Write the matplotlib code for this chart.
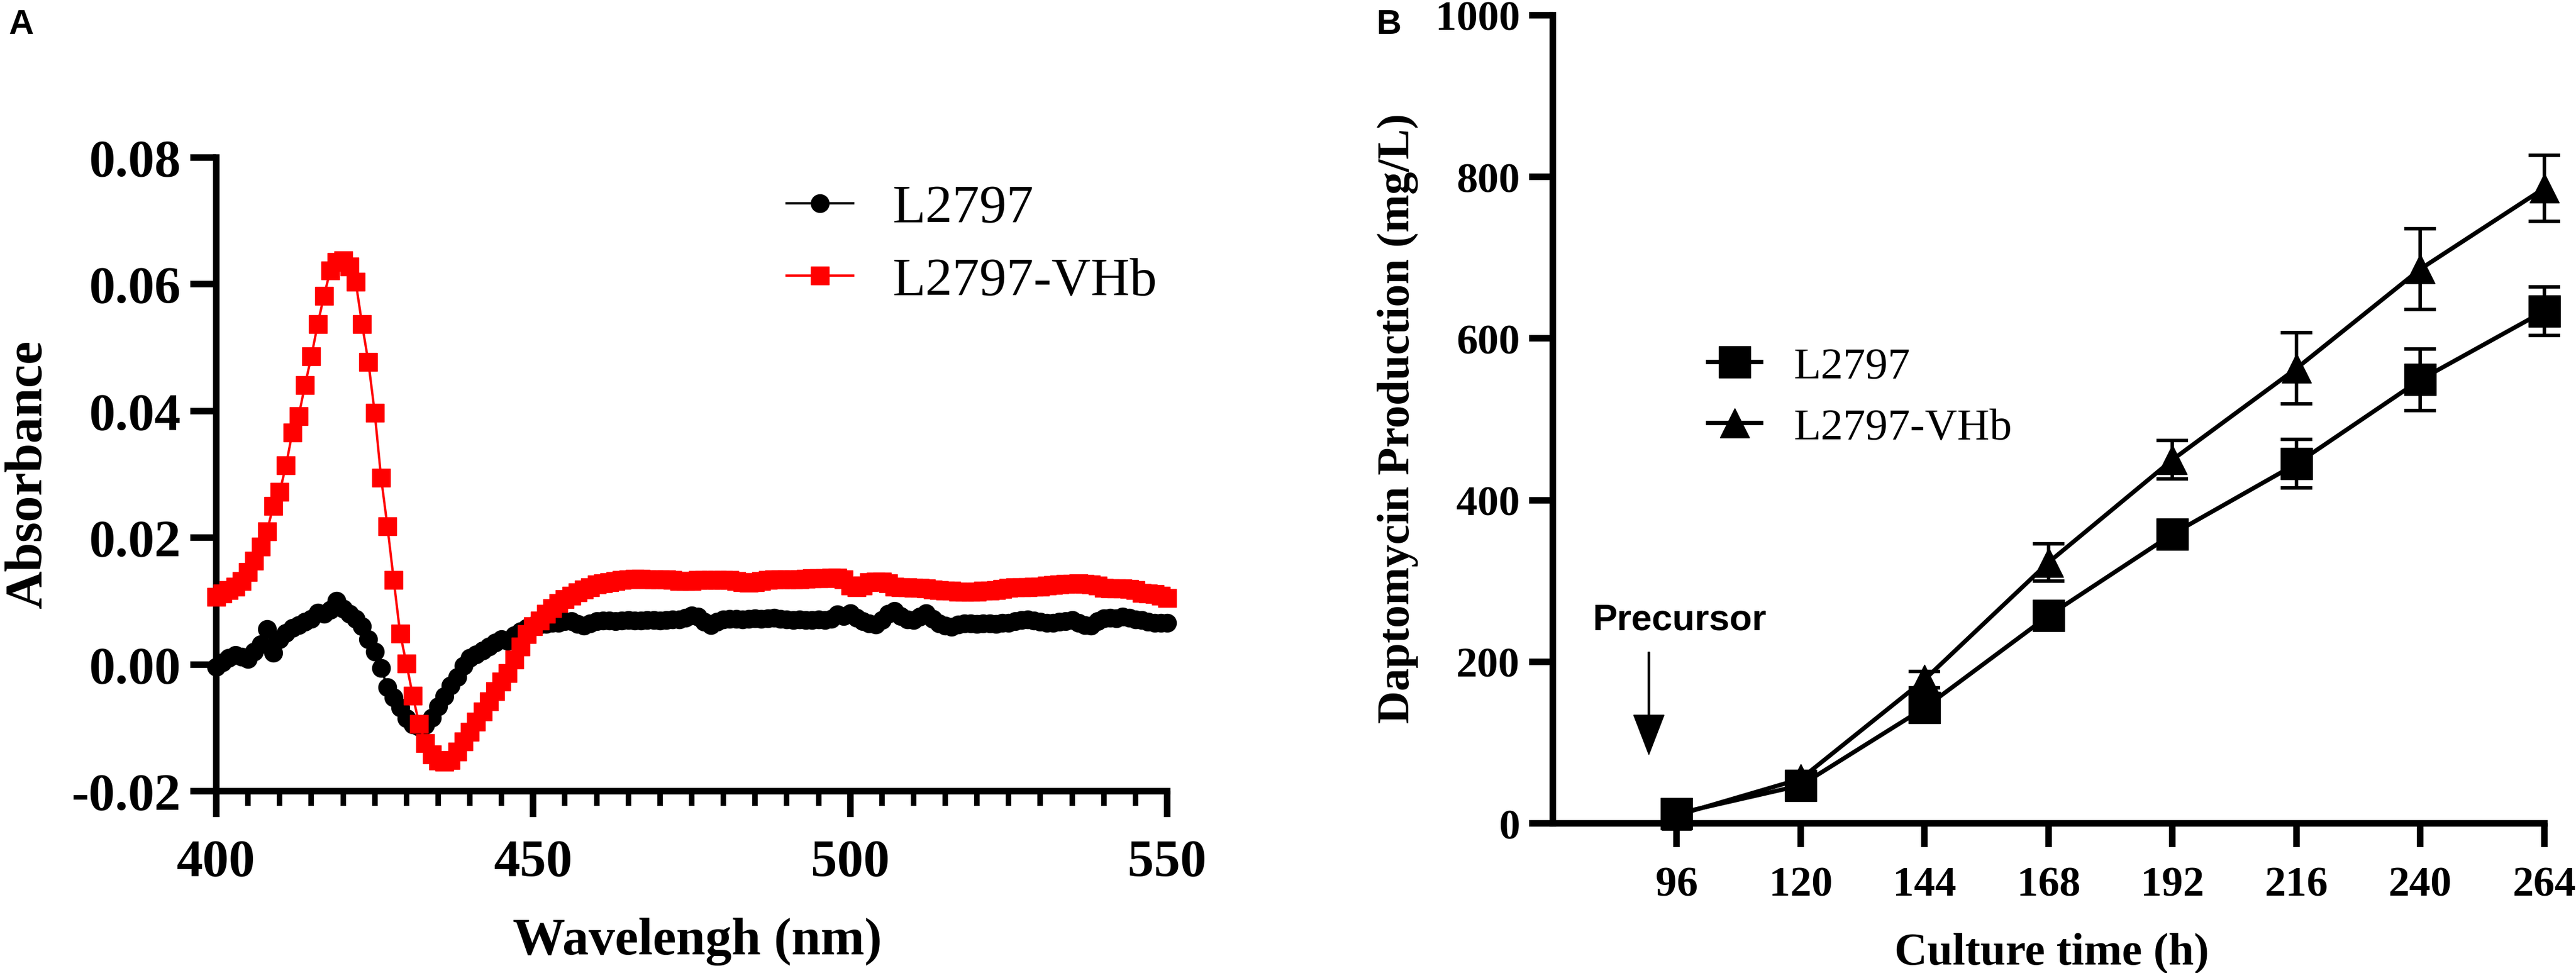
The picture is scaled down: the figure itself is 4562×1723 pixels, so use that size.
import numpy as np
import matplotlib
matplotlib.use("Agg")
import matplotlib.pyplot as plt
from matplotlib.ticker import MultipleLocator, FormatStrFormatter

plt.rcParams['axes.unicode_minus'] = False

# ---- panel A: absorbance spectra ----
wavelength = list(range(400, 551))
abs_l2797 = [
    -0.0004, 0.0003, 0.0010, 0.0015, 0.0012, 0.0009, 0.0020, 0.0032, 0.0056, 0.0018,
    0.0040, 0.0050, 0.0058, 0.0062, 0.0067, 0.0072, 0.0082, 0.0080, 0.0086, 0.0100,
    0.0088, 0.0080, 0.0072, 0.0060, 0.0040, 0.0020, -0.0006, -0.0036, -0.0052, -0.0068,
    -0.0085, -0.0095, -0.0098, -0.0096, -0.0084, -0.0066, -0.0050, -0.0033, -0.0020, -0.0002,
    0.0010, 0.0016, 0.0022, 0.0028, 0.0034, 0.0040, 0.0037, 0.0046, 0.0052, 0.0058,
    0.0061, 0.0063, 0.0064, 0.0066, 0.0066, 0.0068, 0.0068, 0.0064, 0.0061, 0.0065,
    0.0068, 0.0069, 0.0069, 0.0068, 0.0069, 0.0070, 0.0069, 0.0069, 0.0070, 0.0070,
    0.0069, 0.0070, 0.0071, 0.0071, 0.0074, 0.0077, 0.0075, 0.0067, 0.0062, 0.0067,
    0.0071, 0.0072, 0.0072, 0.0071, 0.0072, 0.0073, 0.0072, 0.0073, 0.0074, 0.0072,
    0.0071, 0.0070, 0.0071, 0.0070, 0.0070, 0.0071, 0.0070, 0.0072, 0.0079, 0.0076,
    0.0081, 0.0074, 0.0068, 0.0065, 0.0063, 0.0070, 0.0080, 0.0084, 0.0076, 0.0071,
    0.0070, 0.0075, 0.0081, 0.0072, 0.0065, 0.0061, 0.0059, 0.0063, 0.0065, 0.0065,
    0.0064, 0.0065, 0.0065, 0.0064, 0.0066, 0.0066, 0.0068, 0.0070, 0.0071, 0.0069,
    0.0067, 0.0066, 0.0066, 0.0067, 0.0068, 0.0070, 0.0066, 0.0062, 0.0061, 0.0068,
    0.0073, 0.0074, 0.0073, 0.0075, 0.0074, 0.0071, 0.0070, 0.0067, 0.0066, 0.0066,
    0.0066,
]
abs_vhb = [
    0.0107, 0.0112, 0.0117, 0.0123, 0.0132, 0.0146, 0.0164, 0.0186, 0.0210, 0.0250,
    0.0272, 0.0314, 0.0366, 0.0392, 0.0441, 0.0486, 0.0537, 0.0582, 0.0622, 0.0635,
    0.0638, 0.0628, 0.0604, 0.0537, 0.0477, 0.0397, 0.0295, 0.0218, 0.0133, 0.0049,
    0.0001, -0.0049, -0.0094, -0.0124, -0.0142, -0.0152, -0.0154, -0.0151, -0.0138, -0.0122,
    -0.0106, -0.0090, -0.0074, -0.0058, -0.0042, -0.0027, -0.0014, 0.0008, 0.0028, 0.0048,
    0.0060, 0.0069, 0.0080, 0.0089, 0.0097, 0.0103, 0.0108, 0.0114, 0.0118, 0.0122,
    0.0126, 0.0128, 0.0130, 0.0132, 0.0133, 0.0134, 0.0135, 0.0135, 0.0134, 0.0134,
    0.0134, 0.0134, 0.0133, 0.0132, 0.0132, 0.0132, 0.0133, 0.0133, 0.0133, 0.0133,
    0.0133, 0.0133, 0.0132, 0.0130, 0.0129, 0.0130, 0.0132, 0.0133, 0.0134, 0.0134,
    0.0134, 0.0134, 0.0134, 0.0135, 0.0136, 0.0136, 0.0136, 0.0137, 0.0137, 0.0134,
    0.0124, 0.0122, 0.0124, 0.0130, 0.0131, 0.0131, 0.0128, 0.0123, 0.0122, 0.0122,
    0.0121, 0.0121, 0.0120, 0.0118, 0.0117, 0.0116, 0.0116, 0.0115, 0.0115, 0.0115,
    0.0115, 0.0116, 0.0116, 0.0117, 0.0119, 0.0121, 0.0122, 0.0122, 0.0122, 0.0123,
    0.0123, 0.0124, 0.0125, 0.0126, 0.0127, 0.0127, 0.0128, 0.0127, 0.0126, 0.0124,
    0.0121, 0.0120, 0.0120, 0.0120, 0.0119, 0.0117, 0.0113, 0.0112, 0.0111, 0.0108,
    0.0105,
]

# ---- panel B: daptomycin production ----
culture_time = [96, 120, 144, 168, 192, 216, 240, 264]
prod_l2797 = [12, 47, 143, 257, 358, 445, 549, 634]
err_l2797 = [6, 8, 10, 12, 12, 30, 38, 30]
prod_vhb = [10, 55, 178, 323, 450, 563, 686, 786]
err_vhb = [4, 6, 10, 23, 24, 44, 50, 41]

serif = 'Liberation Serif'
sans = 'Liberation Sans'
spine_w = 8.3

fig = plt.figure(figsize=(45.62, 17.24), dpi=100)

# ------------------ A ------------------
axA = fig.add_axes([0.08395, 0.18677, 0.36914, 0.65081])
axA.plot(wavelength, abs_l2797, color='black', lw=3, marker='o', ms=23,
         label='L2797', zorder=3, clip_on=False)
axA.plot(wavelength, abs_vhb, color='#ff0000', lw=3, marker='s', ms=23,
         label='L2797-VHb', zorder=4, clip_on=False)
axA.set_xlim(400, 550)
axA.set_ylim(-0.02, 0.08)
axA.xaxis.set_major_locator(MultipleLocator(50))
axA.xaxis.set_minor_locator(MultipleLocator(5))
axA.yaxis.set_major_locator(MultipleLocator(0.02))
axA.yaxis.set_major_formatter(FormatStrFormatter('%.2f'))
for s in ['top', 'right']:
    axA.spines[s].set_visible(False)
for s in ['left', 'bottom']:
    axA.spines[s].set_linewidth(spine_w)
axA.tick_params(which='major', length=33, width=spine_w, direction='out', pad=12)
axA.tick_params(axis='x', which='major', pad=28)
axA.tick_params(which='minor', length=19, width=7, direction='out')
for lab in axA.get_xticklabels() + axA.get_yticklabels():
    lab.set_fontfamily(serif)
    lab.set_fontweight('bold')
    lab.set_fontsize(67)
axA.set_xlabel('Wavelengh (nm)', fontfamily=serif, fontweight='bold', fontsize=67)
axA.set_ylabel('Absorbance', fontfamily=serif, fontweight='bold', fontsize=67)
axA.xaxis.set_label_coords(0.506, -0.199)
axA.yaxis.set_label_coords(-0.172, 0.501)
legA = axA.legend(loc='center left', bbox_to_anchor=(0.600, 0.862), frameon=False,
                  prop={'family': serif, 'size': 69}, handlelength=1.23,
                  handletextpad=0.72, labelspacing=0.43, borderpad=0, borderaxespad=0)

# ------------------ B ------------------
axB = fig.add_axes([0.60280, 0.15371, 0.38492, 0.83005])
eb1 = axB.errorbar(culture_time, prod_l2797, yerr=err_l2797, color='black', lw=5.5,
                   marker='s', ms=40, capsize=20, elinewidth=4.5, capthick=4.5,
                   label='L2797', zorder=3, clip_on=False)
eb2 = axB.errorbar(culture_time, prod_vhb, yerr=err_vhb, color='black', lw=5.5,
                   marker='^', ms=38, capsize=20, elinewidth=4.5, capthick=4.5,
                   label='L2797-VHb', zorder=3, clip_on=False)
axB.set_xlim(72, 264)
axB.set_ylim(0, 1000)
axB.set_xticks(culture_time)
axB.set_yticks([0, 200, 400, 600, 800, 1000])
for s in ['top', 'right']:
    axB.spines[s].set_visible(False)
for s in ['left', 'bottom']:
    axB.spines[s].set_linewidth(spine_w)
axB.tick_params(length=30, width=spine_w, direction='out', pad=12)
axB.tick_params(axis='x', pad=24)
for lab in axB.get_xticklabels() + axB.get_yticklabels():
    lab.set_fontfamily(serif)
    lab.set_fontweight('bold')
    lab.set_fontsize(54)
axB.set_xlabel('Culture time (h)', fontfamily=serif, fontweight='bold', fontsize=58)
axB.set_ylabel('Daptomycin Production (mg/L)', fontfamily=serif, fontweight='bold', fontsize=58)
axB.xaxis.set_label_coords(0.503, -0.135)
axB.yaxis.set_label_coords(-0.1355, 0.502)
# legend shows line + marker only, no error bars
legB = axB.legend([eb1[0], eb2[0]], ['L2797', 'L2797-VHb'], loc='center left',
                  bbox_to_anchor=(0.1566, 0.527), frameon=False,
                  prop={'family': serif, 'size': 57}, handlelength=1.19,
                  handletextpad=0.73, labelspacing=0.45, borderpad=0, borderaxespad=0)

# precursor feeding arrow
axB.arrow(90.6, 212, 0, -127, width=0.35, head_width=5.9, head_length=49,
          length_includes_head=True, color='black', zorder=5)
axB.text(96.6, 252, 'Precursor', ha='center', va='center', fontfamily=sans,
         fontweight='bold', fontsize=47)

# panel letters
fig.text(15 / 4562, 1 - 44 / 1724, 'A', fontfamily=sans, fontweight='bold',
         fontsize=44, ha='left', va='center')
fig.text(2438 / 4562, 1 - 44 / 1724, 'B', fontfamily=sans, fontweight='bold',
         fontsize=44, ha='left', va='center')

fig.savefig('out.png', dpi=100, facecolor='white')
